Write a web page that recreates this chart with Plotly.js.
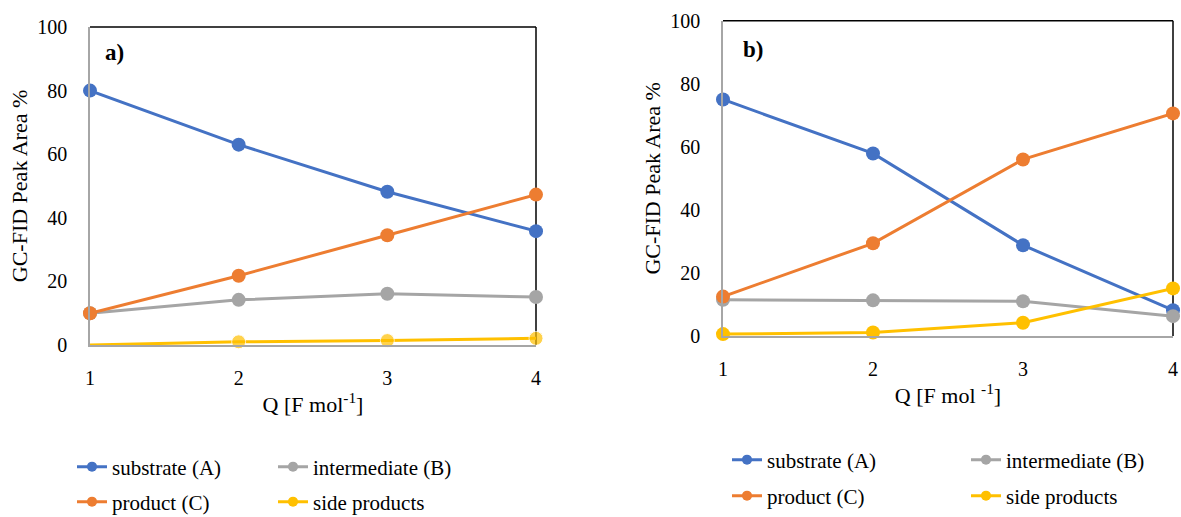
<!DOCTYPE html>
<html>
<head>
<meta charset="utf-8">
<script src="https://cdn.plot.ly/plotly-3.0.1.min.js"></script>
<style>html,body{margin:0;padding:0;background:#fff;}#chart{width:1181px;height:517px;}</style>
</head>
<body>
<div id="chart"></div>
<script>
const xQ = [1, 2, 3, 4];
const seriesNames = ["substrate (A)", "intermediate (B)", "product (C)", "side products"];
const substrateA = [80, 63, 48.2, 35.8];
const intermediateA = [10, 14.2, 16.1, 15.1];
const productA = [10, 21.8, 34.5, 47.3];
const sideA = [0, 1.0, 1.4, 2.1];
const substrateB = [75, 57.9, 28.8, 8.2];
const intermediateB = [11.5, 11.3, 11, 6.3];
const productB = [12.5, 29.4, 56, 70.6];
const sideB = [0.6, 1.1, 4.2, 15.1];
const yTicks = [0, 20, 40, 60, 80, 100];

const colors = ["#4472C4", "#A5A5A5", "#ED7D31", "#FFC000"];
const FONT = "Liberation Serif";

function mk(y, i, xa, ya, msize) {
  return {
    x: xQ, y: y, name: seriesNames[i], type: "scatter", mode: "lines+markers",
    xaxis: xa, yaxis: ya, cliponaxis: false, showlegend: false, hoverinfo: "x+y+name",
    line: {color: colors[i], width: 3},
    marker: {color: colors[i], size: msize || 14}
  };
}
// legend-only entries (smaller markers, as in the reference legend)
function lg(i, xa, ya, leg) {
  return {
    x: [null], y: [null], name: seriesNames[i], type: "scatter", mode: "lines+markers",
    xaxis: xa, yaxis: ya, legend: leg, showlegend: true,
    line: {color: colors[i], width: 3}, marker: {color: colors[i], size: 10}
  };
}
const data = [
  mk(substrateA, 0, "x", "y"),
  mk(intermediateA, 1, "x", "y"),
  mk(productA, 2, "x", "y"),
  mk(sideA, 3, "x", "y", [0, 14, 14, 14]),
  mk(substrateB, 0, "x2", "y2"),
  mk(intermediateB, 1, "x2", "y2"),
  mk(productB, 2, "x2", "y2"),
  mk(sideB, 3, "x2", "y2"),
  lg(0, "x", "y", "legend"), lg(1, "x", "y", "legend"),
  lg(2, "x", "y", "legend2"), lg(3, "x", "y", "legend2"),
  lg(0, "x2", "y2", "legend3"), lg(1, "x2", "y2", "legend3"),
  lg(2, "x2", "y2", "legend4"), lg(3, "x2", "y2", "legend4")
];

const W = 1181, H = 517;
function tf(s) { return {family: FONT, size: s, color: "#000"}; }
function xax(d, anchor, title) {
  return {domain: d, anchor: anchor, range: [1, 4], tickvals: xQ, ticks: "", showgrid: false, zeroline: false,
    automargin: false, showline: true, linecolor: "#A6A6A6", linewidth: 1.5, tickfont: tf(20), ticklabelstandoff: 14,
    title: {text: title, font: tf(22), standoff: 9}};
}
function yax(d, anchor) {
  return {domain: d, anchor: anchor, range: [0, 100], tickvals: yTicks, ticks: "", showgrid: false, zeroline: false,
    automargin: false, showline: true, linecolor: "#A6A6A6", linewidth: 1.5, tickfont: tf(20), ticklabelstandoff: 17,
    title: {text: "GC-FID Peak Area %", font: tf(22), standoff: 4}};
}
function leg(x, yPix, ew) {
  return {orientation: "h", x: x / W, xanchor: "left", y: 1 - yPix / H, yanchor: "middle",
    entrywidth: ew, entrywidthmode: "pixels", font: tf(21),
    bgcolor: "rgba(0,0,0,0)", itemwidth: 30};
}
function border(xr, yr) {
  return [
    {type: "line", xref: xr + " domain", yref: yr + " domain", x0: 0, x1: 1, y0: 1, y1: 1, line: {color: "#000", width: 1.5}, layer: "below"},
    {type: "line", xref: xr + " domain", yref: yr + " domain", x0: 1, x1: 1, y0: 0, y1: 1, line: {color: "#000", width: 1.5}, layer: "below"}
  ];
}

const layout = {
  width: W, height: H, margin: {l: 0, r: 0, t: 0, b: 0, autoexpand: false},
  paper_bgcolor: "#fff", plot_bgcolor: "rgba(0,0,0,0)",
  font: {family: FONT, color: "#000"},
  xaxis: xax([90 / W, 536 / W], "y", "Q [F mol<sup>-1</sup>]"),
  yaxis: yax([1 - 345 / H, 1 - 27 / H], "x"),
  xaxis2: xax([723 / W, 1173 / W], "y2", "Q [F mol <sup>-1</sup>]"),
  yaxis2: yax([1 - 336 / H, 1 - 20.7 / H], "x2"),
  legend: leg(72, 467, 156),
  legend2: leg(72, 502, 156),
  legend3: leg(727, 460, 194),
  legend4: leg(727, 496, 194),
  shapes: border("x", "y").concat(border("x2", "y2")),
  annotations: [
    {text: "<b>a)</b>", xref: "paper", yref: "paper", x: 103 / W, y: 1 - 53 / H, xanchor: "left", yanchor: "middle", showarrow: false, font: tf(23)},
    {text: "<b>b)</b>", xref: "paper", yref: "paper", x: 741 / W, y: 1 - 50 / H, xanchor: "left", yanchor: "middle", showarrow: false, font: tf(23)}
  ]
};
Plotly.newPlot("chart", data, layout, {displayModeBar: false, responsive: false});
</script>
</body>
</html>
